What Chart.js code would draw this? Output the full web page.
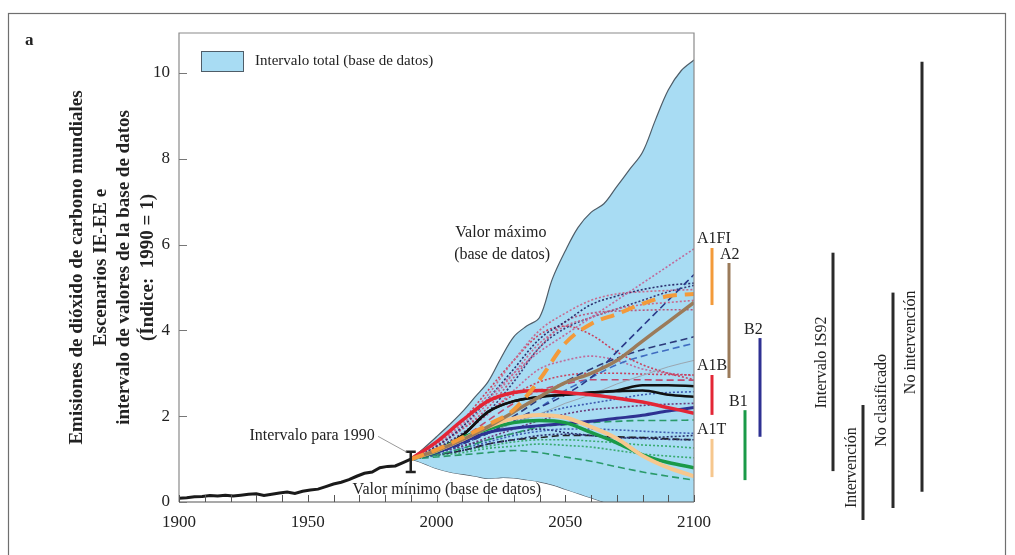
<!DOCTYPE html>
<html>
<head>
<meta charset="utf-8">
<script src="https://cdn.jsdelivr.net/npm/chart.js@4.4.1/dist/chart.umd.min.js"></script>
<style>
  html, body { margin: 0; padding: 0; background: #fff; }
  #wrap { width: 1015px; height: 555px; }
</style>
</head>
<body>
<div id="wrap"><canvas id="co2Chart" width="1015" height="555"></canvas></div>
<script>
// --- data ---
const histYears = [1900, 1903, 1906, 1909, 1912, 1915, 1918, 1921, 1924, 1927, 1930, 1933, 1936, 1939, 1942, 1945, 1948, 1951, 1954, 1957, 1960, 1963, 1966, 1969, 1972, 1975, 1978, 1981, 1984, 1987, 1990];
const histValues = [0.09, 0.1, 0.12, 0.13, 0.15, 0.14, 0.16, 0.14, 0.16, 0.18, 0.19, 0.15, 0.18, 0.21, 0.23, 0.2, 0.25, 0.28, 0.3, 0.36, 0.42, 0.46, 0.52, 0.6, 0.67, 0.7, 0.8, 0.83, 0.84, 0.92, 1.0];

const rangeYears = [1990, 1995, 2000, 2005, 2010, 2015, 2020, 2025, 2030, 2035, 2040, 2045, 2050, 2055, 2060, 2065, 2070, 2075, 2080, 2085, 2090, 2095, 2100];
const rangeMax = [1.0, 1.25, 1.52, 1.8, 2.1, 2.45, 2.8, 3.35, 3.85, 4.1, 4.3, 5.2, 5.85, 6.4, 6.75, 6.95, 7.35, 7.75, 8.15, 8.9, 9.6, 10.05, 10.3];
const rangeMin = [1.0, 0.9, 0.78, 0.7, 0.65, 0.6, 0.55, 0.57, 0.56, 0.52, 0.47, 0.4, 0.3, 0.2, 0.1, 0.0, -0.08, -0.15, -0.2, -0.25, -0.3, -0.35, -0.4];

const scenYears = [1990, 2000, 2010, 2020, 2030, 2040, 2050, 2060, 2070, 2080, 2090, 2100];
const a1fi = [1.0, 1.22, 1.5, 1.8, 2.15, 2.85, 3.7, 4.15, 4.38, 4.62, 4.8, 4.85];
const a2 = [1.0, 1.2, 1.45, 1.75, 2.1, 2.45, 2.78, 3.0, 3.3, 3.75, 4.2, 4.65];
const a1b = [1.0, 1.4, 1.9, 2.35, 2.55, 2.6, 2.55, 2.5, 2.42, 2.33, 2.2, 2.07];
const a1t = [1.0, 1.2, 1.45, 1.75, 1.95, 2.03, 1.97, 1.75, 1.48, 1.08, 0.8, 0.6];
const b1 = [1.0, 1.18, 1.5, 1.7, 1.85, 1.9, 1.85, 1.62, 1.38, 1.1, 0.92, 0.8];
const b2 = [1.0, 1.15, 1.4, 1.62, 1.72, 1.78, 1.83, 1.88, 1.95, 2.02, 2.12, 2.2];
const blackA = [1.0, 1.2, 1.55, 2.1, 2.35, 2.45, 2.5, 2.55, 2.6, 2.72, 2.72, 2.7];
const blackB = [1.0, 1.2, 1.55, 2.1, 2.35, 2.45, 2.5, 2.55, 2.58, 2.6, 2.5, 2.45];

// other database scenarios (thin lines)
const thin01 = [1.0, 1.35, 1.8, 2.4, 3.0, 3.5, 3.9, 4.3, 4.7, 5.1, 5.5, 5.9];
const thin02 = [1.0, 1.15, 1.35, 1.6, 1.9, 2.2, 2.5, 2.9, 3.5, 4.1, 4.7, 5.3];
const thin03 = [1.0, 1.3, 1.75, 2.4, 3.1, 3.8, 4.2, 4.6, 4.8, 4.95, 5.05, 5.1];
const thin04 = [1.0, 1.35, 1.85, 2.5, 3.3, 4.0, 4.4, 4.7, 4.85, 4.9, 4.93, 4.95];
const thin05 = [1.0, 1.3, 1.7, 2.2, 2.9, 3.6, 4.2, 4.4, 4.45, 4.47, 4.48, 4.48];
const thin06 = [1.0, 1.4, 1.9, 2.6, 3.3, 3.9, 4.1, 3.9, 3.5, 3.2, 3.0, 2.85];
const thin07 = [1.0, 1.15, 1.4, 1.7, 2.0, 2.4, 2.8, 3.1, 3.35, 3.55, 3.7, 3.85];
const thin08 = [1.0, 1.15, 1.35, 1.6, 1.9, 2.2, 2.6, 2.9, 3.2, 3.4, 3.55, 3.7];
const thin09 = [1.0, 1.2, 1.4, 1.6, 1.85, 2.05, 2.3, 2.5, 2.75, 2.95, 3.15, 3.3];
const thin10 = [1.0, 1.3, 1.7, 2.1, 2.5, 2.8, 2.95, 3.0, 3.0, 2.98, 2.97, 2.96];
const thin11 = [1.0, 1.2, 1.5, 1.9, 2.3, 2.6, 2.75, 2.85, 2.85, 2.85, 2.84, 2.84];
const thin12 = [1.0, 1.15, 1.35, 1.6, 1.85, 2.05, 2.2, 2.3, 2.4, 2.5, 2.55, 2.57];
const thin13 = [1.0, 1.15, 1.3, 1.5, 1.7, 1.9, 2.05, 2.15, 2.2, 2.25, 2.28, 2.3];
const thin14 = [1.0, 1.1, 1.25, 1.45, 1.6, 1.75, 1.8, 1.85, 1.88, 1.9, 1.9, 1.91];
const thin15 = [1.0, 1.1, 1.25, 1.4, 1.55, 1.65, 1.7, 1.7, 1.68, 1.65, 1.62, 1.6];
const thin16 = [1.0, 1.1, 1.2, 1.35, 1.45, 1.55, 1.58, 1.55, 1.5, 1.48, 1.46, 1.45];
const thin17 = [1.0, 1.1, 1.2, 1.35, 1.45, 1.5, 1.55, 1.55, 1.52, 1.5, 1.47, 1.45];
const thin18 = [1.0, 1.1, 1.2, 1.3, 1.4, 1.45, 1.45, 1.42, 1.38, 1.33, 1.3, 1.26];
const thin19 = [1.0, 1.08, 1.15, 1.25, 1.3, 1.35, 1.32, 1.28, 1.2, 1.12, 1.07, 1.03];
const thin20 = [1.0, 1.05, 1.1, 1.15, 1.2, 1.15, 1.05, 0.95, 0.82, 0.7, 0.6, 0.51];
const thin21 = [1.0, 1.3, 1.75, 2.3, 3.0, 3.7, 4.1, 4.3, 4.5, 4.6, 4.65, 4.7];
const thin22 = [1.0, 1.25, 1.6, 2.1, 2.8, 3.6, 4.05, 4.3, 4.5, 4.7, 4.9, 5.05];
const thin23 = [1.0, 1.25, 1.6, 2.05, 2.6, 3.1, 3.3, 3.4, 3.3, 3.1, 3.0, 2.95];
const thin24 = [1.0, 1.15, 1.3, 1.45, 1.6, 1.7, 1.62, 1.55, 1.5, 1.5, 1.52, 1.55];

// 1990 uncertainty bar
const range1990 = [0.7, 1.17];

// 2100 ranges of the SRES groups
const sresNames = ['A1FI', 'A2', 'A1B', 'A1T', 'B1', 'B2'];
const sresLow = [4.59, 2.89, 2.03, 0.58, 0.51, 1.52];
const sresHigh = [5.92, 5.57, 2.96, 1.47, 2.14, 3.82];

// 2100 ranges of the IS92 / database categories
const catNames = ['Intervalo IS92', 'Intervención', 'No clasificado', 'No intervención'];
const catLow = [0.72, -0.42, -0.14, 0.24];
const catHigh = [5.81, 2.26, 4.88, 10.26];
const catLabelAt = [3.25, 0.8, 2.37, 3.72];

// --- styles ---
const SERIF = '"Liberation Serif", "Times New Roman", serif';
const FILL_BLUE = '#a8dcf3';
const EDGE = '#4f5d68';
const sresColors = ['#f39a3a', '#9b7b5a', '#e32636', '#f6c78e', '#1a9a48', '#2e3192'];
const sresBarX = [18, 35, 18, 18, 51, 66];      // offset from plot right edge
const sresLabelDx = [-15, -9, -15, -15, -16, -16];
const sresLabelDy = [-9, -8, -9, -9, -8, -8];
const catBarX = [139, 169, 199, 228];

const thinStyles = [
    [thin01, '#c06a9a', 'dot'], [thin02, '#2b3a8a', 'dash'], [thin03, '#2b2f6e', 'dot'],
    [thin04, '#c86a8e', 'dot'], [thin05, '#b8587e', 'dot'], [thin06, '#c8415e', 'dot'],
    [thin07, '#2b3a7a', 'dash'], [thin08, '#3f6cc0', 'dash'], [thin09, '#9aa6b0', 'solid'],
    [thin10, '#c8415e', 'dot'], [thin11, '#c04a70', 'dash'], [thin12, '#3f5cb0', 'dot'],
    [thin13, '#6a3a7a', 'dot'], [thin14, '#2a9a6a', 'dash'], [thin15, '#3f5cb0', 'dot'],
    [thin16, '#2b2f6e', 'dot'], [thin17, '#222222', 'dash'], [thin18, '#3aaa70', 'dot'],
    [thin19, '#3aaa70', 'dot'], [thin20, '#2a9a6a', 'dash'], [thin21, '#c86a8e', 'dot'],
    [thin22, '#3a3a7a', 'dot'], [thin23, '#c06a9a', 'dot'], [thin24, '#2b2f6e', 'dot']
];

function pts(xs, ys) {
    return xs.map((x, i) => ({ x: x, y: ys[i] }));
}

function lineSet(label, values, color, width, dash, order) {
    return {
        label: label,
        data: pts(scenYears, values),
        borderColor: color,
        borderWidth: width,
        borderDash: dash,
        pointRadius: 0,
        fill: false,
        cubicInterpolationMode: 'monotone',
        order: order
    };
}

const datasets = [];

// thick marker scenarios
datasets.push(lineSet('A1FI', a1fi, sresColors[0], 4, [14, 8], 1));
datasets.push(lineSet('A2', a2, sresColors[1], 3.5, [], 1));
datasets.push(lineSet('A1B', a1b, sresColors[2], 3.5, [], 1));
datasets.push(lineSet('A1T', a1t, sresColors[3], 4, [], 1));
datasets.push(lineSet('B1', b1, sresColors[4], 3.5, [], 1));
datasets.push(lineSet('B2', b2, sresColors[5], 3, [], 1));
datasets.push(lineSet('negro 1', blackA, '#111111', 2.5, [], 1));
datasets.push(lineSet('negro 2', blackB, '#111111', 2.5, [], 1));

thinStyles.forEach((s, i) => {
    const dash = s[2] === 'dot' ? [2, 2] : (s[2] === 'dash' ? [7, 4] : []);
    datasets.push(lineSet('escenario ' + (i + 1), s[0], s[1], s[2] === 'solid' ? 1 : 1.6, dash, 2));
});

// historical emissions
datasets.push({
    label: 'Histórico',
    data: pts(histYears, histValues),
    borderColor: '#1a1a1a',
    borderWidth: 3,
    pointRadius: 0,
    fill: false,
    tension: 0,
    order: 1
});

// database envelope (max filled down to min)
datasets.push({
    label: 'Intervalo total (base de datos)',
    data: pts(rangeYears, rangeMax),
    borderColor: EDGE,
    borderWidth: 1.2,
    backgroundColor: FILL_BLUE,
    pointRadius: 0,
    fill: '+1',
    tension: 0.35,
    order: 3
});
datasets.push({
    label: 'min',
    data: pts(rangeYears, rangeMin),
    borderColor: EDGE,
    borderWidth: 1.2,
    backgroundColor: FILL_BLUE,
    pointRadius: 0,
    fill: false,
    tension: 0.35,
    order: 3
});

function vText(ctx, text, x, y) {
    ctx.save();
    ctx.translate(x, y);
    ctx.rotate(-Math.PI / 2);
    ctx.fillText(text, 0, 0);
    ctx.restore();
}

const extras = {
    id: 'extras',
    beforeDraw(chart) {
        const ctx = chart.ctx;
        ctx.save();
        ctx.strokeStyle = '#6f6f6f';
        ctx.lineWidth = 1.2;
        ctx.strokeRect(8.5, 13.5, 997, 560);
        ctx.fillStyle = '#222';
        ctx.font = 'bold 17px ' + SERIF;
        ctx.textBaseline = 'middle';
        ctx.fillText('a', 25, 41);
        ctx.restore();
    },
    afterDraw(chart) {
        const { ctx, chartArea: a, scales: { x, y } } = chart;
        ctx.save();

        // plot frame
        ctx.lineWidth = 1.2;
        ctx.strokeStyle = '#8a8a8a';
        ctx.beginPath();
        ctx.moveTo(a.left, a.bottom); ctx.lineTo(a.left, a.top); ctx.lineTo(a.right, a.top); ctx.lineTo(a.right, a.bottom);
        ctx.stroke();
        ctx.strokeStyle = '#555';
        ctx.beginPath();
        ctx.moveTo(a.left, a.bottom); ctx.lineTo(a.right, a.bottom);
        ctx.stroke();

        // inward tick marks
        ctx.strokeStyle = '#555';
        ctx.lineWidth = 1;
        x.ticks.forEach(t => {
            const px = Math.round(x.getPixelForValue(t.value)) + 0.5;
            ctx.beginPath(); ctx.moveTo(px, a.bottom); ctx.lineTo(px, a.bottom - 7); ctx.stroke();
        });
        ctx.strokeStyle = '#777';
        y.ticks.forEach(t => {
            const py = Math.round(y.getPixelForValue(t.value)) + 0.5;
            ctx.beginPath(); ctx.moveTo(a.left, py); ctx.lineTo(a.left + 8, py); ctx.stroke();
        });

        // legend key for the envelope
        const ds = chart.data.datasets.find(d => d.label === 'Intervalo total (base de datos)');
        ctx.fillStyle = ds.backgroundColor;
        ctx.fillRect(a.left + 22, a.top + 18, 42, 20);
        ctx.strokeStyle = ds.borderColor;
        ctx.lineWidth = 1;
        ctx.strokeRect(a.left + 22.5, a.top + 18.5, 42, 20);
        ctx.fillStyle = '#222';
        ctx.font = '15px ' + SERIF;
        ctx.textBaseline = 'middle';
        ctx.textAlign = 'left';
        ctx.fillText(ds.label, a.left + 76, a.top + 28);

        // 1990 uncertainty bar
        const bx = x.getPixelForValue(1990);
        const bTop = y.getPixelForValue(range1990[1]);
        const bBot = y.getPixelForValue(range1990[0]);
        ctx.strokeStyle = '#222';
        ctx.lineWidth = 2.5;
        ctx.beginPath();
        ctx.moveTo(bx, bTop); ctx.lineTo(bx, bBot);
        ctx.moveTo(bx - 5, bTop); ctx.lineTo(bx + 5, bTop);
        ctx.moveTo(bx - 5, bBot); ctx.lineTo(bx + 5, bBot);
        ctx.stroke();

        // annotations
        ctx.fillStyle = '#222';
        ctx.font = '16px ' + SERIF;
        ctx.textAlign = 'right';
        ctx.fillText('Intervalo para 1990', x.getPixelForValue(1976), y.getPixelForValue(1.55));
        ctx.strokeStyle = '#9a9a9a';
        ctx.lineWidth = 1;
        ctx.beginPath();
        ctx.moveTo(x.getPixelForValue(1977.3), y.getPixelForValue(1.53));
        ctx.lineTo(x.getPixelForValue(1988.5), y.getPixelForValue(1.16));
        ctx.stroke();
        ctx.textAlign = 'center';
        ctx.fillText('Valor máximo', x.getPixelForValue(2025), y.getPixelForValue(6.27));
        ctx.fillText('(base de datos)', x.getPixelForValue(2025.5), y.getPixelForValue(5.76));
        ctx.fillText('Valor mínimo (base de datos)', x.getPixelForValue(2004), y.getPixelForValue(0.28));

        // SRES group ranges at 2100
        ctx.lineWidth = 3;
        sresNames.forEach((n, i) => {
            const px = a.right + sresBarX[i];
            ctx.strokeStyle = sresColors[i];
            ctx.beginPath();
            ctx.moveTo(px, y.getPixelForValue(sresHigh[i]));
            ctx.lineTo(px, y.getPixelForValue(sresLow[i]));
            ctx.stroke();
            ctx.fillStyle = '#222';
            ctx.textAlign = 'left';
            ctx.fillText(n, px + sresLabelDx[i], y.getPixelForValue(sresHigh[i]) + sresLabelDy[i]);
        });

        // IS92 / category ranges at 2100
        ctx.strokeStyle = '#2a2a2a';
        ctx.lineWidth = 3;
        ctx.textAlign = 'center';
        catNames.forEach((n, i) => {
            const px = a.right + catBarX[i];
            ctx.beginPath();
            ctx.moveTo(px, y.getPixelForValue(catHigh[i]));
            ctx.lineTo(px, y.getPixelForValue(catLow[i]));
            ctx.stroke();
            ctx.fillStyle = '#222';
            vText(ctx, n, px - 11, y.getPixelForValue(catLabelAt[i]));
        });

        ctx.restore();
    }
};

new Chart(document.getElementById('co2Chart'), {
    type: 'line',
    data: { datasets: datasets },
    plugins: [extras],
    options: {
        responsive: false,
        animation: false,
        devicePixelRatio: 1,
        layout: { padding: { left: 10, right: 321, top: 33, bottom: 0 } },
        plugins: {
            tooltip: { enabled: false },
            legend: { display: false }
        },
        scales: {
            x: {
                type: 'linear',
                min: 1900,
                max: 2100,
                grid: { display: false, drawTicks: false },
                border: { display: false },
                afterFit: s => { s.height = 53; },
                ticks: {
                    stepSize: 10,
                    padding: 10,
                    maxRotation: 0,
                    autoSkip: false,
                    color: '#222',
                    font: { family: SERIF, size: 17 },
                    callback: v => (v % 50 === 0 ? String(v) : '')
                }
            },
            y: {
                type: 'linear',
                min: 0,
                max: 10.93,
                grid: { display: false, drawTicks: false },
                border: { display: false },
                afterFit: s => { s.width = 169; },
                afterBuildTicks: s => { s.ticks = s.ticks.filter(t => t.value % 2 === 0); },
                ticks: {
                    stepSize: 2,
                    padding: 9,
                    includeBounds: false,
                    color: '#222',
                    font: { family: SERIF, size: 17 }
                },
                title: {
                    display: true,
                    text: ['Emisiones de dióxido de carbono mundiales', 'Escenarios IE-EE e', 'intervalo de valores de la base de datos', '(Índice:  1990 = 1)'],
                    color: '#222',
                    font: { family: SERIF, size: 19, weight: 'bold', lineHeight: 1.25 },
                    padding: { top: 55, bottom: 0 }
                }
            }
        }
    }
});
</script>
</body>
</html>
